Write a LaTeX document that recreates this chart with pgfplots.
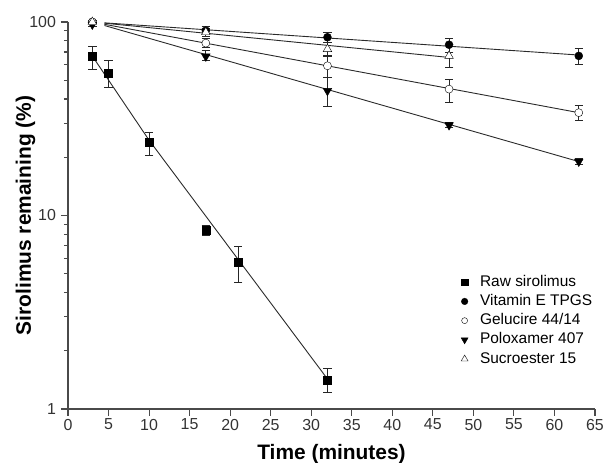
\documentclass[border=0pt]{standalone}
\usepackage{fontspec}
\setmainfont{Liberation Sans}
\usepackage{pgfplots}
\pgfplotsset{compat=1.18}
\usepackage{pgfplotstable}
\definecolor{axgray}{HTML}{4A4A4A}
\definecolor{linegray}{HTML}{2A2A2A}

\pgfplotstableread{
x y ep em
3 66.7 8.3 9.7
5 54.4 8.5 8.4
10 23.9 3.0 3.4
17 8.39 0.46 0.49
21 5.73 1.2 1.21
32 1.41 0.21 0.20
}\raw
\pgfplotstableread{
x y ep em
3 100 2 2
17 90.2 5 4.5
32 83.4 5 4.6
47 76.3 6.3 6.7
63 66.8 6.3 6.7
}\vite
\pgfplotstableread{
x y ep em
3 100 2 2
17 77.8 4 4
32 59.4 7.4 7.9
47 45.0 5.7 6.6
63 34.0 3.1 3.2
}\gelu
\pgfplotstableread{
x y ep em
3 97 2 2
17 66.4 4.6 3.4
32 44.1 7.4 7.3
47 29.3 0.8 0.8
63 19.0 0.6 0.6
}\polo
\pgfplotstableread{
x y ep em
3 100 2 2
17 88.5 4 4
32 72.4 6 6
47 66.8 3 8.6
}\sucro

\pgfplotsset{errs/.style={
  error bars/y dir=both, error bars/y explicit,
  error bars/error bar style={black!85, line width=1bp},
  error bars/error mark options={black!85, line width=1bp, mark size=4.2bp, rotate=90}}}

\begin{document}
\begin{tikzpicture}
\useasboundingbox (-68bp,-54bp) rectangle (537bp,409bp);
\begin{axis}[
  width=527bp, height=387bp, scale only axis,
  xmin=0, xmax=65, ymin=1, ymax=100, ymode=log,
  axis lines*=left,
  axis line style={axgray, line width=1.1bp},
  every tick/.append style={axgray, line width=1.1bp},
  tick align=outside,
  major tick length=7bp, minor tick length=4bp,
  xtick={0,5,...,65},
  ytick={1,10,100}, yticklabels={1,10,100},
  minor ytick={2,3,4,5,6,7,8,9,20,30,40,50,60,70,80,90},
  /pgf/number format/assume math mode=true,
  tick label style={font=\fontsize{16}{19}\selectfont, text=black!80},
  xticklabel style={yshift=0.5bp},
  yticklabel style={xshift=-1.5bp},
  xlabel={Time (minutes)},
  ylabel={Sirolimus remaining (\%)},
  label style={font=\fontsize{21}{25}\selectfont\bfseries},
  xlabel style={at={(rel axis cs:0.5,0)}, anchor=base, yshift=-50bp},
  ylabel style={at={(rel axis cs:0,0.5)}, anchor=base, yshift=37bp},
  legend style={at={(0.74,0.358)}, anchor=north west, draw=none, fill=none,
    font=\fontsize{15.5}{18}\selectfont,
    nodes={text height=11.5bp, text depth=3.5bp, inner ysep=2.1bp},
    row sep=0pt,
    /tikz/every odd column/.append style={column sep=10bp}},
  legend cell align=left,
  clip=false,
]
% regression lines
\addplot[linegray, line width=0.9bp, forget plot] coordinates {(3,66.7) (10,24.5) (32,1.43)};
\addplot[linegray, line width=0.9bp, forget plot] coordinates {(4.5,99) (63,67.5)};
\addplot[linegray, line width=0.9bp, forget plot] coordinates {(4.5,98.6) (47,65.6)};
\addplot[linegray, line width=0.9bp, forget plot] coordinates {(4.5,97.3) (63,34)};
\addplot[linegray, line width=0.9bp, forget plot] coordinates {(4.5,95.9) (63,19)};
% data with error bars
\addplot[errs, only marks, mark=square*, mark size=4bp, black, forget plot]
  table[x=x, y=y, y error plus=ep, y error minus=em] {\raw};
\addplot[errs, only marks, mark=*, mark size=4bp, black, forget plot]
  table[x=x, y=y, y error plus=ep, y error minus=em] {\vite};
\addplot[errs, only marks, mark=*, mark size=4bp, black, mark options={fill=white}, forget plot]
  table[x=x, y=y, y error plus=ep, y error minus=em] {\gelu};
\addplot[errs, only marks, mark=triangle*, mark size=5bp, black, mark options={rotate=180}, forget plot]
  table[x=x, y=y, y error plus=ep, y error minus=em] {\polo};
\addplot[errs, only marks, mark=triangle*, mark size=5bp, black, mark options={fill=white}, forget plot]
  table[x=x, y=y, y error plus=ep, y error minus=em] {\sucro};
% legend
\addlegendimage{only marks, mark=square*, mark size=3.3bp, black}
\addlegendentry{Raw sirolimus}
\addlegendimage{only marks, mark=*, mark size=3.3bp, black}
\addlegendentry{Vitamin E TPGS}
\addlegendimage{only marks, mark=*, mark size=3bp, black, mark options={fill=white}}
\addlegendentry{Gelucire 44/14}
\addlegendimage{only marks, mark=triangle*, mark size=4bp, black, mark options={rotate=180}}
\addlegendentry{Poloxamer 407}
\addlegendimage{only marks, mark=triangle*, mark size=4bp, black, mark options={fill=white}}
\addlegendentry{Sucroester 15}
\end{axis}
\end{tikzpicture}
\end{document}
